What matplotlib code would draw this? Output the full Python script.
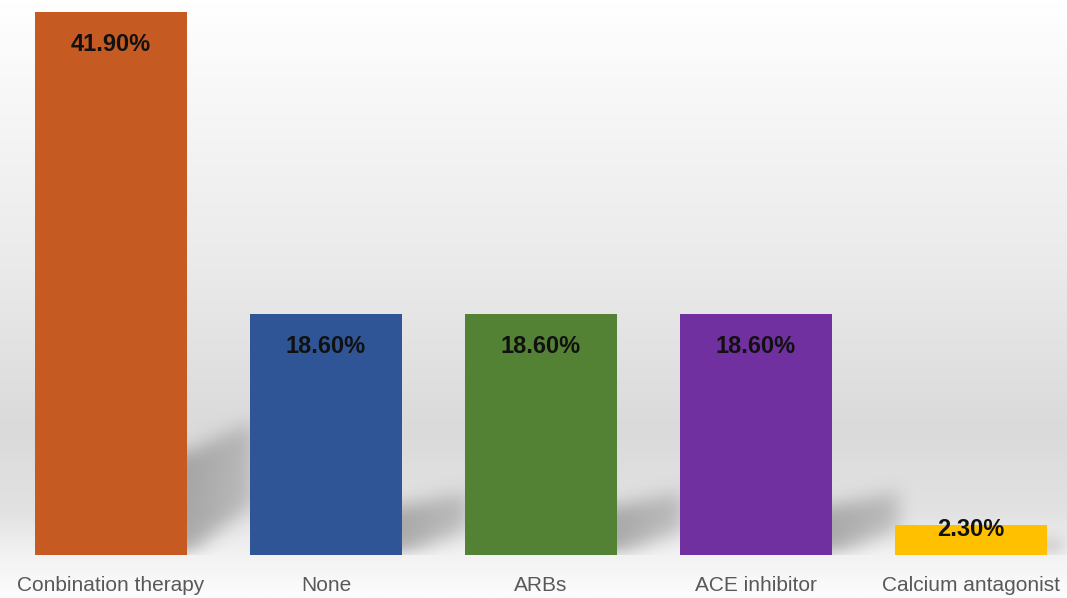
import numpy as np
import matplotlib
matplotlib.use("Agg")
import matplotlib.pyplot as plt
from matplotlib.colors import LinearSegmentedColormap
from matplotlib.path import Path

categories = ["Conbination therapy", "None", "ARBs", "ACE inhibitor", "Calcium antagonist"]
values = [41.9, 18.6, 18.6, 18.6, 2.3]
labels = ["41.90%", "18.60%", "18.60%", "18.60%", "2.30%"]
colors = ["#C55A22", "#2F5597", "#548235", "#7030A0", "#FFC000"]

W, H = 1067, 598
fig = plt.figure(figsize=(W / 100, H / 100), dpi=100)

# background gradient for the whole figure
bg = fig.add_axes([0, 0, 1, 1], zorder=0)
bg_cmap = LinearSegmentedColormap.from_list(
    "bg", [(0.0, "#FFFFFF"), (0.08, "#FBFBFB"), (0.45, "#EAEAEA"),
           (0.72, "#DADADA"), (0.86, "#E2E2E2"), (0.93, "#F2F2F2"), (1.0, "#FCFCFC")])
grad = np.linspace(0, 1, 300).reshape(-1, 1)
bg.imshow(grad, aspect="auto", cmap=bg_cmap, extent=[0, 1, 0, 1], origin="upper")
bg.axis("off")

base_frac = (H - 555) / H
ax = fig.add_axes([0, base_frac, 1, 1 - base_frac], zorder=1)
ax.patch.set_alpha(0)

x = np.arange(len(categories))
xlim = (-111 / 215, (W - 111) / 215)
ylim = (0, 555 / 12.96)
bw = 0.71

# soft perspective shadows falling back and to the right of each bar
nx, ny = 1067, 555
gx = np.linspace(xlim[0], xlim[1], nx)
gy = np.linspace(ylim[0], ylim[1], ny)
XX, YY = np.meshgrid(gx, gy)
pts = np.column_stack([XX.ravel(), YY.ravel()])
mask = np.zeros(XX.shape)
L = 0.31
for xi, v in zip(x, values):
    hs = 0.18 * v + 0.4
    xl, xr = xi - bw / 2 + 0.18, xi + bw / 2
    poly = Path([(xl, 0), (xr, 0), (xr + L, 0.5 * hs), (xr + L, 1.3 * hs),
                 (xr, hs), (xl, hs), (xl, 0)])
    inside = poly.contains_points(pts).reshape(XX.shape).astype(float)
    fade = np.clip(1 - 0.4 * (XX - xr) / L, 0.0, 1.0)
    mask = np.maximum(mask, inside * fade)


def box_blur(a, r, axis):
    pad = [(0, 0), (0, 0)]
    pad[axis] = (r, r)
    p = np.pad(a, pad, mode="constant")
    c = np.cumsum(p, axis=axis)
    c = np.insert(c, 0, 0, axis=axis)
    if axis == 0:
        return (c[2 * r + 1:] - c[:-2 * r - 1]) / (2 * r + 1)
    return (c[:, 2 * r + 1:] - c[:, :-2 * r - 1]) / (2 * r + 1)


for _ in range(3):
    mask = box_blur(mask, 8, 0)
    mask = box_blur(mask, 8, 1)

shadow = np.zeros(mask.shape + (4,))
shadow[..., :3] = 0.5
shadow[..., 3] = mask * 0.6
ax.imshow(shadow, extent=[xlim[0], xlim[1], ylim[0], ylim[1]], origin="lower",
          aspect="auto", zorder=1, interpolation="bilinear")

ax.bar(x, values, width=bw, color=colors, zorder=2)

for xi, v, lab in zip(x, values, labels):
    yc = v - min(2.5, 0.16 * v)
    ax.text(xi, yc, lab, ha="center", va="center", fontsize=17,
            fontweight="bold", color="#111111", zorder=3,
            family=["Liberation Sans", "DejaVu Sans"])

ax.set_xlim(*xlim)
ax.set_ylim(*ylim)
ax.set_xticks(x)
ax.set_xticklabels(categories, fontsize=15, color="#595959",
                   family=["Liberation Sans", "DejaVu Sans"])
ax.tick_params(axis="x", length=0, pad=15)
ax.set_yticks([])
for s in ax.spines.values():
    s.set_visible(False)

fig.savefig("out.png", dpi=100)
